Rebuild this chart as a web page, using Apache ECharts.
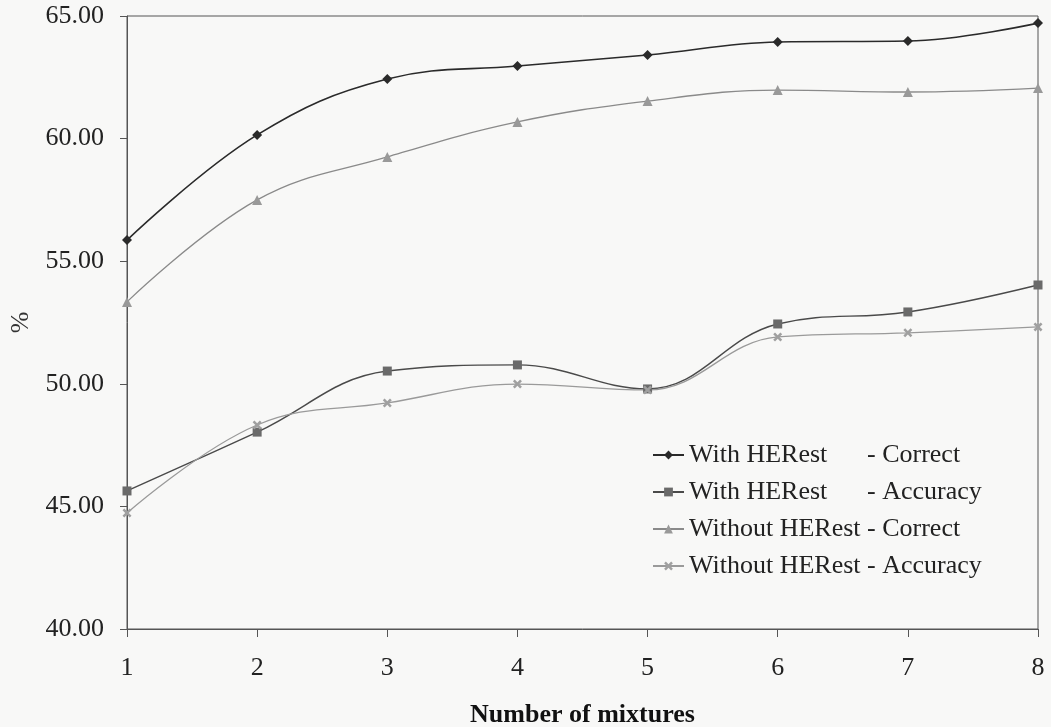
<!DOCTYPE html>
<html>
<head>
<meta charset="utf-8">
<script src="https://cdn.jsdelivr.net/npm/echarts@6/dist/echarts.min.js"></script>
<style>
html,body{margin:0;padding:0;background:#f8f8f7;}
#c{width:1051px;height:727px;}
</style>
</head>
<body>
<div id="c"></div>
<script>
var categories = ['1','2','3','4','5','6','7','8'];
var withCorrect = [55.86, 60.15, 62.43, 62.96, 63.41, 63.94, 63.98, 64.71];
var withAccuracy = [45.63, 48.03, 50.52, 50.77, 49.79, 52.44, 52.93, 54.03];
var withoutCorrect = [53.34, 57.50, 59.25, 60.68, 61.53, 61.98, 61.90, 62.06];
var withoutAccuracy = [44.73, 48.32, 49.22, 49.99, 49.75, 51.91, 52.08, 52.32];
var seriesNames = ['With HERest - Correct', 'With HERest - Accuracy', 'Without HERest - Correct', 'Without HERest - Accuracy'];
var yTicks = {min: 40, max: 65, interval: 5};

var FONT = '"Liberation Serif", "Times New Roman", serif';
var X_PATH = 'path://M2,0 L5,3 L8,0 L10,2 L7,5 L10,8 L8,10 L5,7 L2,10 L0,8 L3,5 L0,2 Z';

function mk(name, data, lineColor, markColor, symbol, size, width) {
  return {
    name: name, type: 'line', data: data, smooth: 0.4,
    symbol: symbol, symbolSize: size, showSymbol: true,
    lineStyle: {color: lineColor, width: width},
    itemStyle: {color: markColor, borderWidth: 0}
  };
}

var chart = echarts.init(document.getElementById('c'), null, {renderer: 'canvas'});
chart.setOption({
  backgroundColor: '#f8f8f7',
  animation: false,
  textStyle: {fontFamily: FONT},
  grid: {left: 127, top: 16, right: 13, bottom: 98, containLabel: false, outerBoundsMode: 'none',
    show: true, borderColor: '#555', borderWidth: 1, backgroundColor: 'transparent'},
  xAxis: {
    type: 'category', data: categories, boundaryGap: false,
    axisLine: {lineStyle: {color: '#555', width: 1}},
    axisTick: {show: true, inside: false, length: 8, lineStyle: {color: '#555'}},
    axisLabel: {color: '#222', fontSize: 26, fontFamily: FONT, margin: 26},
    splitLine: {show: false},
    name: 'Number of mixtures', nameLocation: 'middle', nameGap: 73,
    nameTextStyle: {color: '#111', fontSize: 26, fontWeight: 'bold', fontFamily: FONT}
  },
  yAxis: {
    type: 'value', min: yTicks.min, max: yTicks.max, interval: yTicks.interval,
    axisLine: {show: true, lineStyle: {color: '#555', width: 1}},
    axisTick: {show: true, inside: false, length: 7, lineStyle: {color: '#555'}},
    axisLabel: {color: '#222', fontSize: 26, fontFamily: FONT, margin: 23, formatter: function(v){return v.toFixed(2);}},
    splitLine: {show: false},
    name: '%', nameLocation: 'middle', nameGap: 93, nameRotate: 90,
    nameTextStyle: {color: '#333', fontSize: 26, fontFamily: FONT}
  },
  legend: {
    orient: 'vertical', left: 647, top: 437,
    itemWidth: 31, itemHeight: 11, itemGap: 11,
    data: seriesNames,
    textStyle: {color: '#222', fontSize: 26, fontFamily: FONT, lineHeight: 26,
      rich: {a: {fontSize: 26, fontFamily: FONT, color: '#222', width: 178}, b: {fontSize: 26, fontFamily: FONT, color: '#222'}}},
    formatter: function(n) {
      if (n.indexOf('With ') === 0) {
        var p = n.split(' - ');
        return '{a|' + p[0] + '}{b|- ' + p[1] + '}';
      }
      return n;
    }
  },
  series: [
    mk(seriesNames[0], withCorrect, '#2a2a2a', '#2a2a2a', 'diamond', 10, 1.6),
    mk(seriesNames[1], withAccuracy, '#4a4a4a', '#6a6a6a', 'rect', 9, 1.4),
    mk(seriesNames[2], withoutCorrect, '#8a8a8a', '#999999', 'triangle', 10, 1.3),
    mk(seriesNames[3], withoutAccuracy, '#9a9a9a', '#a0a0a0', X_PATH, 9, 1.3)
  ]
});
</script>
</body>
</html>
